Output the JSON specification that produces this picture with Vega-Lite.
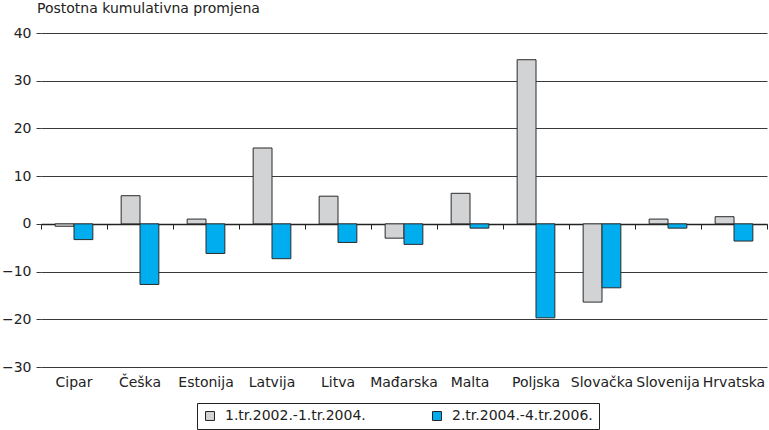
{
  "$schema": "https://vega.github.io/schema/vega-lite/v6.json",
  "width": 726,
  "height": 334,
  "autosize": "none",
  "padding": {"left": 41, "top": 33, "right": 2, "bottom": 63},
  "background": "white",
  "config": {
    "view": {"stroke": null},
    "font": "DejaVu Sans",
    "axis": {"labelFont": "DejaVu Sans", "labelFontSize": 14, "labelColor": "#222"},
    "legend": {"labelFont": "DejaVu Sans", "labelFontSize": 14, "labelColor": "#222"}
  },
  "title": {
    "text": "Postotna kumulativna promjena",
    "anchor": "start",
    "frame": "group",
    "offset": 10,
    "dx": -4,
    "font": "DejaVu Sans",
    "fontSize": 14,
    "fontWeight": "normal",
    "color": "#222"
  },
  "data": {
    "values": [
      {"zemlja": "Cipar", "razdoblje": "1.tr.2002.-1.tr.2004.", "vrijednost": -0.5},
      {"zemlja": "Cipar", "razdoblje": "2.tr.2004.-4.tr.2006.", "vrijednost": -3.3},
      {"zemlja": "Češka", "razdoblje": "1.tr.2002.-1.tr.2004.", "vrijednost": 5.9},
      {"zemlja": "Češka", "razdoblje": "2.tr.2004.-4.tr.2006.", "vrijednost": -12.7},
      {"zemlja": "Estonija", "razdoblje": "1.tr.2002.-1.tr.2004.", "vrijednost": 1.0},
      {"zemlja": "Estonija", "razdoblje": "2.tr.2004.-4.tr.2006.", "vrijednost": -6.2},
      {"zemlja": "Latvija", "razdoblje": "1.tr.2002.-1.tr.2004.", "vrijednost": 15.9},
      {"zemlja": "Latvija", "razdoblje": "2.tr.2004.-4.tr.2006.", "vrijednost": -7.3},
      {"zemlja": "Litva", "razdoblje": "1.tr.2002.-1.tr.2004.", "vrijednost": 5.8},
      {"zemlja": "Litva", "razdoblje": "2.tr.2004.-4.tr.2006.", "vrijednost": -3.9},
      {"zemlja": "Mađarska", "razdoblje": "1.tr.2002.-1.tr.2004.", "vrijednost": -3.0},
      {"zemlja": "Mađarska", "razdoblje": "2.tr.2004.-4.tr.2006.", "vrijednost": -4.3},
      {"zemlja": "Malta", "razdoblje": "1.tr.2002.-1.tr.2004.", "vrijednost": 6.4},
      {"zemlja": "Malta", "razdoblje": "2.tr.2004.-4.tr.2006.", "vrijednost": -0.9},
      {"zemlja": "Poljska", "razdoblje": "1.tr.2002.-1.tr.2004.", "vrijednost": 34.4},
      {"zemlja": "Poljska", "razdoblje": "2.tr.2004.-4.tr.2006.", "vrijednost": -19.7},
      {"zemlja": "Slovačka", "razdoblje": "1.tr.2002.-1.tr.2004.", "vrijednost": -16.4},
      {"zemlja": "Slovačka", "razdoblje": "2.tr.2004.-4.tr.2006.", "vrijednost": -13.4},
      {"zemlja": "Slovenija", "razdoblje": "1.tr.2002.-1.tr.2004.", "vrijednost": 1.0},
      {"zemlja": "Slovenija", "razdoblje": "2.tr.2004.-4.tr.2006.", "vrijednost": -0.9},
      {"zemlja": "Hrvatska", "razdoblje": "1.tr.2002.-1.tr.2004.", "vrijednost": 1.5},
      {"zemlja": "Hrvatska", "razdoblje": "2.tr.2004.-4.tr.2006.", "vrijednost": -3.6}
    ]
  },
  "resolve": {"axis": {"x": "independent"}},
  "layer": [
    {
      "mark": {"type": "bar", "stroke": "#2a2a2a", "strokeWidth": 1},
      "encoding": {
        "x": {
          "field": "zemlja",
          "type": "nominal",
          "sort": null,
          "scale": {"paddingInner": 0, "paddingOuter": 0},
          "axis": {"title": null, "orient": "bottom", "domain": false, "ticks": false, "labelPadding": 8, "labelAngle": 0, "grid": false}
        },
        "xOffset": {
          "field": "razdoblje",
          "type": "nominal",
          "scale": {"paddingOuter": 0.75, "paddingInner": 0}
        },
        "y": {
          "field": "vrijednost",
          "type": "quantitative",
          "scale": {"domain": [-30, 40]},
          "axis": {
            "title": null,
            "values": [-30, -20, -10, 0, 10, 20, 30, 40],
            "grid": true,
            "gridColor": "#3a3a3a",
            "gridOpacity": 1,
            "domain": false,
            "tickColor": "#3a3a3a",
            "tickSize": 5,
            "labelPadding": 5
          }
        },
        "color": {
          "field": "razdoblje",
          "type": "nominal",
          "scale": {"domain": ["1.tr.2002.-1.tr.2004.", "2.tr.2004.-4.tr.2006."], "range": ["#d2d3d5", "#00aeef"]},
          "legend": {
            "title": null,
            "orient": "none",
            "legendX": 156,
            "legendY": 370,
            "direction": "horizontal",
            "strokeColor": "#222",
            "padding": 6,
            "symbolType": "square",
            "symbolSize": 80,
            "symbolStrokeColor": "#222",
            "symbolStrokeWidth": 1,
            "symbolOpacity": 1,
            "labelOffset": 8,
            "columnPadding": 64
          }
        }
      }
    },
    {
      "mark": {"type": "point", "opacity": 0},
      "encoding": {
        "x": {
          "field": "zemlja",
          "type": "nominal",
          "sort": null,
          "axis": {
            "title": null,
            "orient": "bottom",
            "offset": -143,
            "labels": false,
            "domain": true,
            "domainColor": "#222",
            "domainWidth": 1.5,
            "ticks": true,
            "tickBand": "extent",
            "tickColor": "#222",
            "tickSize": 5,
            "grid": false
          }
        },
        "y": {"datum": 0}
      }
    }
  ]
}
